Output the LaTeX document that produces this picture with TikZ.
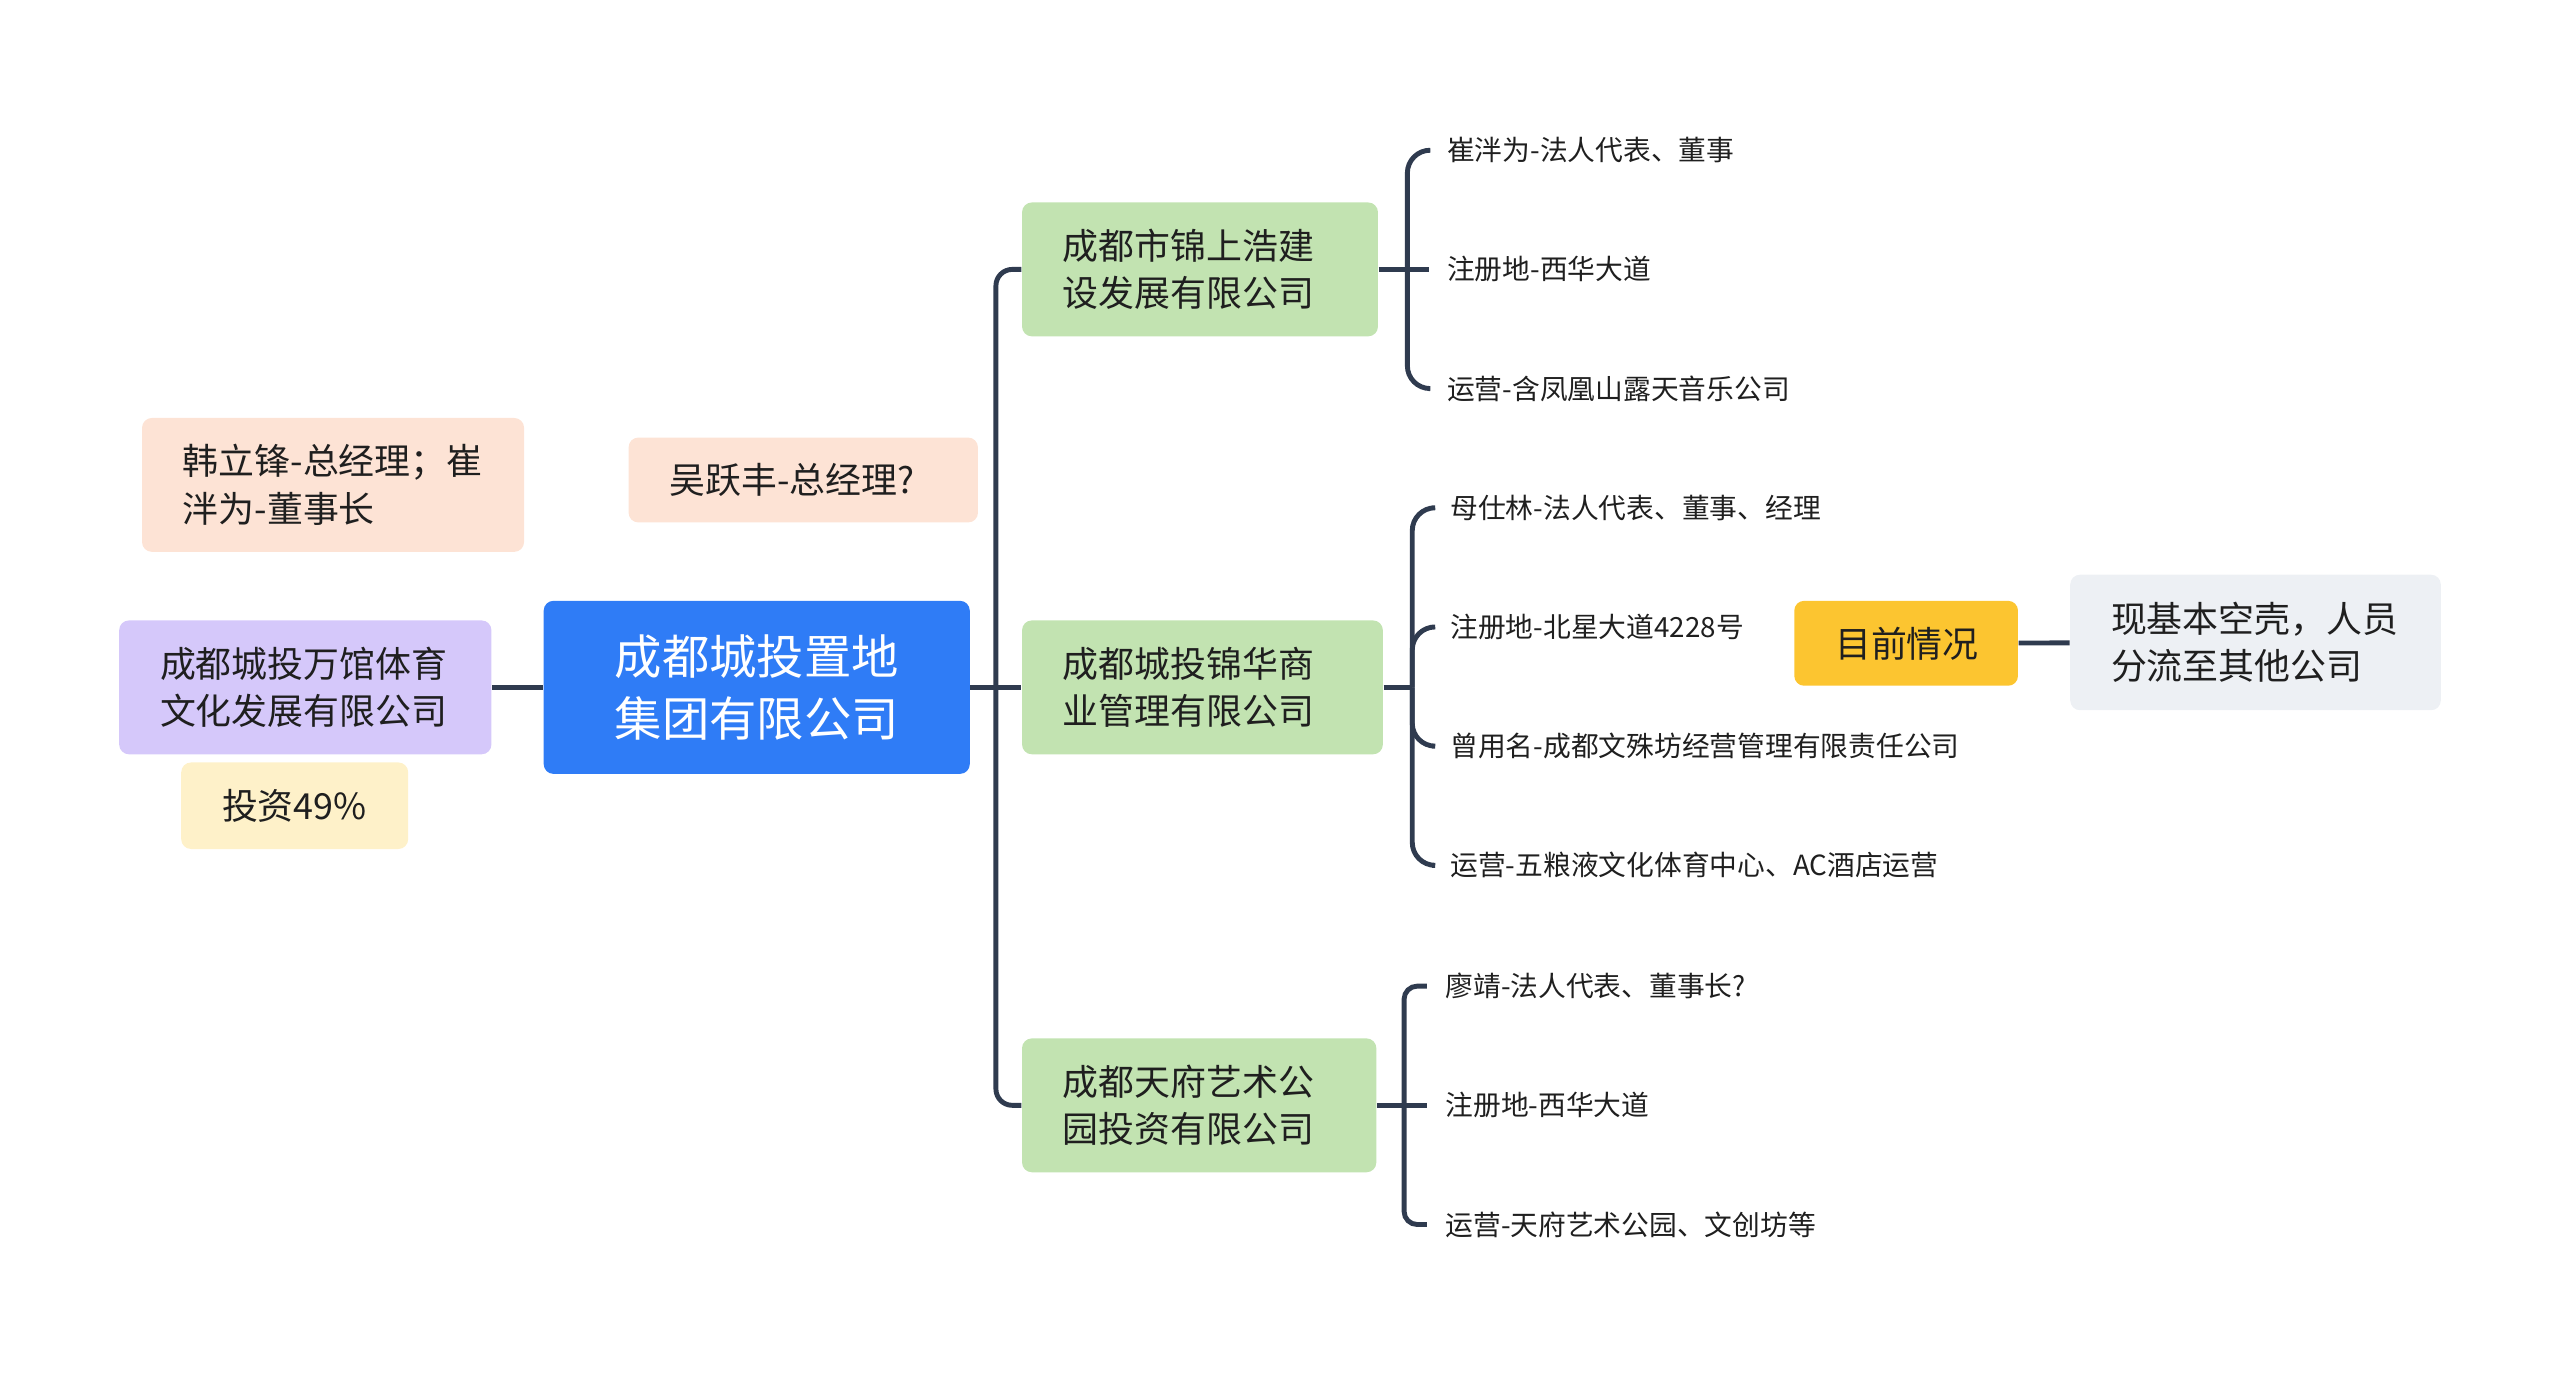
\documentclass[tikz,border=0pt]{standalone}
\usepackage{fontspec}
\setmainfont{Noto Sans CJK SC}
\definecolor{linecol}{HTML}{2F3B4F}
\definecolor{rootblue}{HTML}{2F7CF6}
\definecolor{subgreen}{HTML}{C2E3B1}
\definecolor{lilac}{HTML}{D5C8FA}
\definecolor{cream}{HTML}{FEF1C9}
\definecolor{peach}{HTML}{FDE3D5}
\definecolor{gold}{HTML}{FCC530}
\definecolor{mist}{HTML}{EDF0F4}
\begin{document}
\begin{tikzpicture}[x=0.5pt,y=-0.5pt,
        box/.style={rectangle,rounded corners=3pt,inner xsep=12.5pt,inner ysep=0pt,
          align=left,text=black!88,font=\fontsize{11}{14.5}\selectfont},
        rootbox/.style={box,fill=rootblue,text=white,align=center,
          font=\fontsize{14.5}{19}\selectfont},
        subbox/.style={box,fill=subgreen,minimum height=41pt},
        leaf/.style={anchor=west,inner xsep=5.5pt,inner ysep=2pt,
          text=black!88,font=\fontsize{8.5}{10}\selectfont},
        conn/.style={draw=linecol,line width=1.5pt}]
      \useasboundingbox (0,0) rectangle (1568,842);
      % centre and left side
      \node (root) at (463.5,421) [rootbox,minimum width=130.5pt,minimum height=53pt] {成都城投置地\\集团有限公司};
      \node (wan) at (187,421) [box,fill=lilac,text width=89pt,minimum height=41pt] {成都城投万馆体育\\文化发展有限公司};
      \node (invest) at (180.5,493.5) [box,fill=cream,text width=44.5pt,minimum height=26.5pt] {投资49\%};
      \node (han) at (204,297) [box,fill=peach,text width=92pt,minimum height=41pt] {韩立锋-总经理；崔\\泮为-董事长};
      \node (wu) at (492,294) [box,fill=peach,text width=82pt,minimum height=26pt] {吴跃丰-总经理?};
      % companies
      \node (g1) at (735,165) [subbox,text width=84pt] {成都市锦上浩建\\设发展有限公司};
      \node (g2) at (736.5,421) [subbox,text width=85.5pt] {成都城投锦华商\\业管理有限公司};
      \node (g3) at (734.5,677) [subbox,text width=83.5pt] {成都天府艺术公\\园投资有限公司};
      % details
      \node (l11) at (875,92) [leaf] {崔泮为-法人代表、董事};
      \node (l12) at (875,165) [leaf] {注册地-西华大道};
      \node (l13) at (875,238) [leaf] {运营-含凤凰山露天音乐公司};
      \node (l21) at (877,311) [leaf] {母仕林-法人代表、董事、经理};
      \node (l22) at (877,384) [leaf] {注册地-北星大道4228号};
      \node (l23) at (877,457) [leaf] {曾用名-成都文殊坊经营管理有限责任公司};
      \node (l24) at (877,530) [leaf] {运营-五粮液文化体育中心、AC酒店运营};
      \node (l31) at (874,604) [leaf] {廖靖-法人代表、董事长?};
      \node (l32) at (874,677) [leaf] {注册地-西华大道};
      \node (l33) at (874,750) [leaf] {运营-天府艺术公园、文创坊等};
      \node (now) at (1167.5,394) [box,fill=gold,align=center,text width=43.5pt,minimum height=26pt] {目前情况};
      \node (shell) at (1381.5,393.5) [box,fill=mist,text width=88.5pt,minimum height=41.5pt] {现基本空壳，人员\\分流至其他公司};
      % connectors
      \coordinate (trunk) at (610,421);
      \coordinate (b1) at (862,165);
      \coordinate (b2) at (865,421);
      \coordinate (b3) at (860,677);
      \draw[conn] (wan) -- (root);
      \draw[conn] (root) -- (g2);
      \draw[conn,rounded corners=5pt] (g1.west) -| (trunk) |- (g3.west);
      \draw[conn] (g1) -- (b1);
      \draw[conn,rounded corners=7pt] (b1) |- (l11.west);
      \draw[conn] (b1) -- (l12.west);
      \draw[conn,rounded corners=7pt] (b1) |- (l13.west);
      \draw[conn] (g2) -- (b2);
      \draw[conn,rounded corners=7pt] (b2) |- (l21.west);
      \draw[conn,rounded corners=7pt] (b2) |- (l22.west);
      \draw[conn,rounded corners=7pt] (b2) |- (l23.west);
      \draw[conn,rounded corners=7pt] (b2) |- (l24.west);
      \draw[conn] (g3) -- (b3);
      \draw[conn,rounded corners=4pt] (b3) |- (l31.west);
      \draw[conn] (b3) -- (l32.west);
      \draw[conn,rounded corners=4pt] (b3) |- (l33.west);
      \draw[conn] (now) -- (shell);
\end{tikzpicture}
\end{document}
